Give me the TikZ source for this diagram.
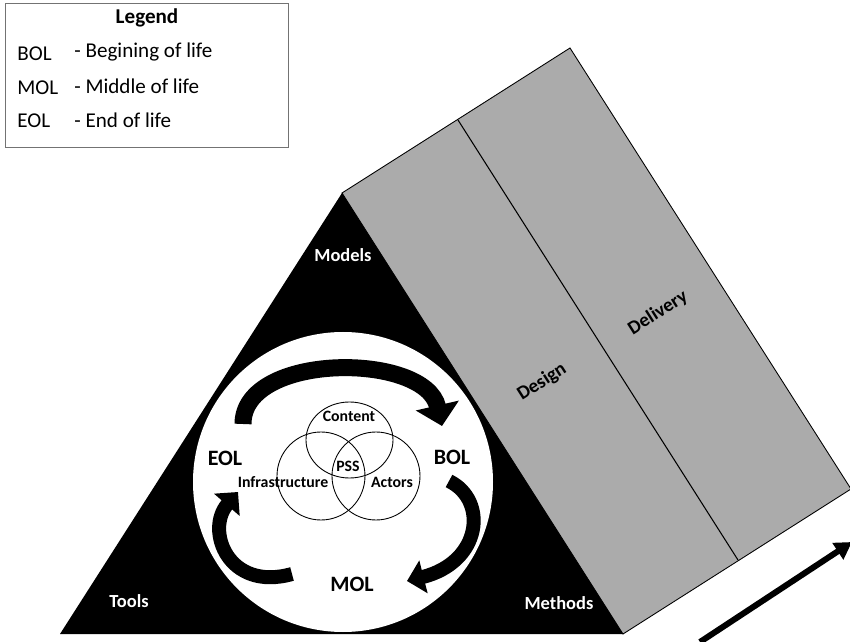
\documentclass[tikz,border=0pt]{standalone}
\usepackage{fontspec}
\setmainfont{Carlito}
\usepackage{xcolor}
\usepackage{tikz}
\usetikzlibrary{arrows.meta}
\definecolor{prismgray}{RGB}{171,171,171}

\begin{document}
\begin{tikzpicture}[x=0.02cm,y=-0.02cm,
	keytext/.style={inner sep=0pt,anchor=west,font=\fontsize{12}{14}\selectfont},
	stage/.style={font=\bfseries\fontsize{12.5}{15}\selectfont},
	venn/.style={inner sep=0pt,font=\bfseries\fontsize{9}{11}\selectfont},
	corner/.style={text=white,font=\bfseries\fontsize{10.5}{12}\selectfont},
	phase/.style={rotate=32.5,font=\bfseries\fontsize{11}{13}\selectfont},
	looparrow/.style={line width=0.34cm,-{Triangle[length=0.42cm,width=0.86cm]}},
	smallloop/.style={line width=0.28cm,-{Triangle[length=0.34cm,width=0.66cm]}}]
	\useasboundingbox (0,0) rectangle (850,642);
	% legend
	\draw[black!55] (5,3) rectangle (288,147);
	\node[font=\bfseries\fontsize{12}{14}\selectfont] (legend) at (147,18) {Legend};
	\node[keytext] (bolkey) at (17,54) {BOL};
	\node[keytext] (bolval) at (74,52) {- Begining of life};
	\node[keytext] (molkey) at (17,88) {MOL};
	\node[keytext] (molval) at (74,86) {- Middle of life};
	\node[keytext] (eolkey) at (17,121) {EOL};
	\node[keytext] (eolval) at (74,120) {- End of life};
	% prism
	\coordinate (apex) at (342,193);
	\coordinate (tleft) at (60,634);
	\coordinate (tright) at (623,634);
	\coordinate (ptop) at (570,48);
	\coordinate (pfar) at (851,489);
	\coordinate (divtop) at (458,120);
	\coordinate (divbot) at (738,560);
	\draw[fill=prismgray,line width=0.5pt] (apex) -- (ptop) -- (pfar) -- (tright) -- cycle;
	\draw[line width=0.6pt] (divtop) -- (divbot);
	\node[phase] (design) at (542,382) {Design};
	\node[phase] (delivery) at (658,313) {Delivery};
	% triangle
	\fill (apex) -- (tleft) -- (tright) -- cycle;
	\node[corner] (models) at (343,255) {Models};
	\node[corner] (tools) at (129,601) {Tools};
	\node[corner] (methods) at (559,603) {Methods};
	\fill[white] (343,482) circle (150);
	% venn
	\draw[line width=0.5pt] (349.5,440) ellipse (43.5 and 38);
	\draw[line width=0.5pt] (321,476) circle (44);
	\draw[line width=0.5pt] (376,476) circle (44);
	\node[venn] (content) at (349,416) {Content};
	\node[venn] (pss) at (348,466) {PSS};
	\node[venn] (infra) at (283,482) {Infrastructure};
	\node[venn] (actors) at (392,482) {Actors};
	% life cycle
	\node[stage] (eol) at (225,458) {EOL};
	\node[stage] (bol) at (452,457) {BOL};
	\node[stage] (mol) at (352,584) {MOL};
	\coordinate (eolout) at (243,424);
	\coordinate (bolin) at (442,426);
	\coordinate (bolout) at (449,481);
	\coordinate (molin) at (407,581);
	\coordinate (molout) at (292,574);
	\coordinate (eolin) at (238,492);
	\draw[looparrow] (eolout) .. controls (243,352) and (425,352) .. (bolin);
	\draw[smallloop] (bolout) .. controls (488,500) and (482,562) .. (molin);
	\draw[smallloop] (molout) .. controls (228,592) and (205,530) .. (eolin);
	% direction
	\coordinate (flowstart) at (700,642);
	\coordinate (flowend) at (852,542);
	\draw[line width=0.12cm,-{Triangle[length=0.34cm,width=0.38cm]}] (flowstart) -- (flowend);
\end{tikzpicture}
\end{document}
